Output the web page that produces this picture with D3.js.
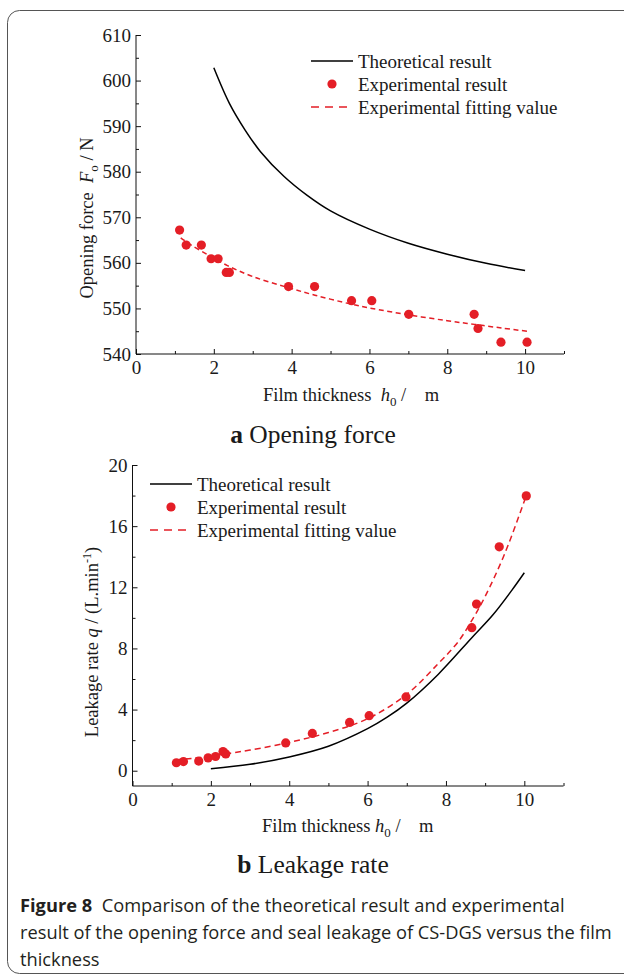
<!DOCTYPE html>
<head>
    <meta charset="utf-8">
    <title>Figure 8</title>
    <script src="https://cdn.jsdelivr.net/npm/d3@7"></script>
    <style>
        body { margin: 0; background: #fff; }
        svg { display: block; }
        .serif { font-family: "Liberation Serif", "Times New Roman", serif; fill: #1a1a1a; }
    </style>
</head>
<body>
    <div id="container"></div>
    <script>
        //------------------------DATA------------------------//
        // (a) opening force, experimental points
        var forceExpH = [1.12, 1.29, 1.68, 1.93, 2.11, 2.32, 2.40, 3.92, 4.59, 5.54, 6.06, 7.01, 8.69, 8.79, 9.38, 10.05];
        var forceExpF = [567.2, 563.9, 563.9, 560.9, 560.9, 557.9, 557.9, 554.8, 554.8, 551.7, 551.7, 548.7, 548.7, 545.6, 542.6, 542.6];
        // (a) theoretical curve
        var forceTheoH = [2.0, 2.4, 2.8, 3.2, 3.8, 4.4, 5.0, 6.0, 7.0, 8.0, 9.0, 10.0];
        var forceTheoF = [602.8, 595.0, 589.2, 584.4, 579.0, 574.8, 571.4, 567.4, 564.3, 561.9, 559.9, 558.3];
        // (a) fitting curve
        var forceFitH = [1.15, 1.4, 1.9, 2.35, 3.0, 3.9, 4.6, 5.5, 6.0, 7.0, 8.0, 8.7, 9.4, 10.05];
        var forceFitF = [565.5, 564.0, 561.5, 559.4, 557.0, 554.6, 552.9, 551.0, 550.1, 548.6, 547.3, 546.5, 545.7, 545.0];

        // (b) leakage rate, experimental points
        var leakExpH = [1.12, 1.30, 1.69, 1.93, 2.12, 2.31, 2.38, 3.91, 4.59, 5.54, 6.04, 6.98, 8.66, 8.78, 9.36, 10.05];
        var leakExpQ = [0.52, 0.60, 0.63, 0.84, 0.93, 1.25, 1.10, 1.82, 2.44, 3.16, 3.60, 4.83, 9.36, 10.9, 14.65, 17.98];
        // (b) theoretical curve
        var leakTheoH = [2.0, 3.0, 4.0, 5.0, 6.0, 6.5, 7.0, 7.8, 8.66, 9.2, 9.68, 10.0];
        var leakTheoQ = [0.13, 0.42, 0.9, 1.6, 2.75, 3.5, 4.42, 6.3, 8.7, 10.2, 11.8, 12.95];
        // (b) fitting curve
        var leakFitH = [1.1, 1.5, 2.0, 2.5, 3.0, 4.0, 5.0, 6.0, 7.0, 7.8, 8.3, 8.7, 9.0, 9.5, 10.05];
        var leakFitQ = [0.7, 0.8, 0.95, 1.15, 1.35, 1.85, 2.5, 3.4, 5.0, 7.0, 8.4, 10.0, 11.4, 14.2, 18.0];

        // ticks
        var xMajor = [0, 2, 4, 6, 8, 10], xMinor = [1, 3, 5, 7, 9, 11];
        var forceMajor = [540, 550, 560, 570, 580, 590, 600, 610], forceMinor = [545, 555, 565, 575, 585, 595, 605];
        var leakMajor = [0, 4, 8, 12, 16, 20], leakMinor = [2, 6, 10, 14, 18];
        var legendNames = ["Theoretical result", "Experimental result", "Experimental fitting value"];

        var red = "#e41e26";
        var serif = "'Liberation Serif', 'Times New Roman', serif";

        //------------------------SVG------------------------//
        var W = 624, H = 975;
        var svg = d3.select("#container").append("svg").attr("width", W).attr("height", H);

        // figure frame
        svg.append("rect")
            .attr("x", 7.5).attr("y", 10.5).attr("width", 680).attr("height", 963)
            .attr("rx", 12).attr("fill", "none").attr("stroke", "#555").attr("stroke-width", 1);

        function zip(a, b) { return a.map(function (d, i) { return [d, b[i]]; }); }

        function styleAxis(sel) {
            sel.selectAll("text")
                .style("font-family", serif)
                .style("font-size", "19px")
                .style("fill", "#1a1a1a");
            sel.selectAll("line").attr("stroke", "#111");
            sel.selectAll("path").attr("stroke", "#111");
        }

        function panel(opt) {
            var g = svg.append("g");
            var x = opt.x, y = opt.y;
            var y0 = y.range()[0], x0 = x.range()[0];

            // x axis: minor then major
            g.append("g").attr("transform", "translate(0," + y0 + ")")
                .call(d3.axisBottom(x).tickValues(xMinor).tickSizeInner(-3).tickSizeOuter(0).tickFormat(""))
                .call(styleAxis)
                .select(".domain").remove();
            g.append("g").attr("transform", "translate(0," + y0 + ")")
                .call(d3.axisBottom(x).tickValues(xMajor).tickSizeInner(-5).tickSizeOuter(0).tickPadding(7).tickFormat(d3.format("d")))
                .call(styleAxis)
                .select(".domain").attr("d", "M" + x.range()[0] + ",0H" + x.range()[1]);

            // y axis
            g.append("g").attr("transform", "translate(" + x0 + ",0)")
                .call(d3.axisLeft(y).tickValues(opt.yMinor).tickSizeInner(-3).tickSizeOuter(0).tickFormat(""))
                .call(styleAxis)
                .select(".domain").remove();
            g.append("g").attr("transform", "translate(" + x0 + ",0)")
                .call(d3.axisLeft(y).tickValues(opt.yMajor).tickSizeInner(-5).tickSizeOuter(0).tickPadding(5).tickFormat(d3.format("d")))
                .call(styleAxis)
                .select(".domain").attr("d", "M0," + y.range()[0] + "V" + y.range()[1]);

            var line = d3.line().curve(d3.curveCatmullRom.alpha(0.5))
                .x(function (d) { return x(d[0]); })
                .y(function (d) { return y(d[1]); });

            g.append("path").datum(zip(opt.theoH, opt.theoV))
                .attr("d", line).attr("fill", "none").attr("stroke", "#000").attr("stroke-width", 1.5);

            g.append("path").datum(zip(opt.fitH, opt.fitV))
                .attr("d", line).attr("fill", "none").attr("stroke", red).attr("stroke-width", 1.5)
                .attr("stroke-dasharray", opt.dash);

            g.selectAll("circle.pt").data(zip(opt.expH, opt.expV)).enter()
                .append("circle").attr("class", "pt")
                .attr("cx", function (d) { return x(d[0]); })
                .attr("cy", function (d) { return y(d[1]); })
                .attr("r", 4.6).attr("fill", red);

            // legend
            var lg = g.append("g").attr("transform", "translate(" + opt.legend[0] + "," + opt.legend[1] + ")");
            var rows = lg.selectAll("g").data(legendNames).enter().append("g")
                .attr("transform", function (d, i) { return "translate(0," + (i * 23) + ")"; });
            rows.append("text").attr("class", "serif").attr("x", 47).attr("y", 6.5)
                .style("font-size", "19px").text(function (d) { return d; });
            lg.append("line").attr("x1", 0).attr("x2", 42).attr("y1", 0).attr("y2", 0)
                .attr("stroke", "#000").attr("stroke-width", 1.5);
            lg.append("circle").attr("cx", 21).attr("cy", 23).attr("r", 4.6).attr("fill", red);
            lg.append("line").attr("x1", 0).attr("x2", 42).attr("y1", 46).attr("y2", 46)
                .attr("stroke", red).attr("stroke-width", 1.5).attr("stroke-dasharray", "8,6");
            return g;
        }

        //------------------------(a) OPENING FORCE------------------------//
        var xa = d3.scaleLinear().domain([0, 11]).range([136, 564]);
        var ya = d3.scaleLinear().domain([540, 610]).range([354, 35]);
        panel({
            x: xa, y: ya, yMajor: forceMajor, yMinor: forceMinor,
            theoH: forceTheoH, theoV: forceTheoF, fitH: forceFitH, fitV: forceFitF,
            expH: forceExpH, expV: forceExpF, dash: "5,3.5", legend: [311, 61]
        });

        var ylabA = svg.append("text").attr("class", "serif").style("font-size", "18.5px").style("white-space", "pre")
            .attr("text-anchor", "middle").attr("transform", "translate(93,218) rotate(-90)");
        ylabA.append("tspan").text("Opening force  ");
        ylabA.append("tspan").style("font-style", "italic").text("F");
        ylabA.append("tspan").style("font-size", "13px").attr("dy", 5).text("o");
        ylabA.append("tspan").attr("dy", -5).text(" / N");

        var xlabA = svg.append("text").attr("class", "serif").style("font-size", "18.5px").style("white-space", "pre")
            .attr("x", 263).attr("y", 401);
        xlabA.append("tspan").text("Film thickness  ");
        xlabA.append("tspan").style("font-style", "italic").text("h");
        xlabA.append("tspan").style("font-size", "13px").attr("dy", 5).text("0");
        xlabA.append("tspan").attr("dy", -5).text(" /    m");

        var tA = svg.append("text").attr("class", "serif").style("font-size", "25.5px")
            .attr("x", 313).attr("y", 443).attr("text-anchor", "middle");
        tA.append("tspan").style("font-weight", "bold").text("a");
        tA.append("tspan").text(" Opening force");

        //------------------------(b) LEAKAGE RATE------------------------//
        var xb = d3.scaleLinear().domain([0, 11]).range([132.5, 563.5]);
        var yb = d3.scaleLinear().domain([-1, 20]).range([786, 465]);
        panel({
            x: xb, y: yb, yMajor: leakMajor, yMinor: leakMinor,
            theoH: leakTheoH, theoV: leakTheoQ, fitH: leakFitH, fitV: leakFitQ,
            expH: leakExpH, expV: leakExpQ, dash: "6,4", legend: [150, 484]
        });

        var ylabB = svg.append("text").attr("class", "serif").style("font-size", "18.5px").style("white-space", "pre")
            .attr("text-anchor", "middle").attr("transform", "translate(98,642) rotate(-90)");
        ylabB.append("tspan").text("Leakage rate ");
        ylabB.append("tspan").style("font-style", "italic").text("q");
        ylabB.append("tspan").text(" / (L.min");
        ylabB.append("tspan").style("font-size", "12px").attr("dy", -7).text("-1");
        ylabB.append("tspan").attr("dy", 7).text(")");

        var xlabB = svg.append("text").attr("class", "serif").style("font-size", "18.5px").style("white-space", "pre")
            .attr("x", 262).attr("y", 832);
        xlabB.append("tspan").text("Film thickness ");
        xlabB.append("tspan").style("font-style", "italic").text("h");
        xlabB.append("tspan").style("font-size", "13px").attr("dy", 5).text("0");
        xlabB.append("tspan").attr("dy", -5).text(" /    m");

        var tB = svg.append("text").attr("class", "serif").style("font-size", "25.5px")
            .attr("x", 313).attr("y", 873).attr("text-anchor", "middle");
        tB.append("tspan").style("font-weight", "bold").text("b");
        tB.append("tspan").text(" Leakage rate");

        //------------------------CAPTION------------------------//
        var capLines = ["Comparison of the theoretical result and experimental",
            "result of the opening force and seal leakage of CS-DGS versus the film",
            "thickness"];
        var cap = svg.append("g").style("font-family", "'Open Sans', 'Noto Sans', sans-serif").style("fill", "#231f20");
        var c1 = cap.append("text").attr("x", 20).attr("y", 912).style("white-space", "pre");
        c1.append("tspan").style("font-weight", "bold").text("Figure 8");
        c1.append("tspan").text("  " + capLines[0]);
        var c2 = cap.append("text").attr("x", 20).attr("y", 939).text(capLines[1]);
        cap.append("text").attr("x", 20).attr("y", 966).text(capLines[2]);
        // size caption so the long line fits the column
        cap.selectAll("text").style("font-size", "17px");
        var fs = 17 * 592 / c2.node().getComputedTextLength();
        cap.selectAll("text").style("font-size", fs + "px");
    </script>
</body>
